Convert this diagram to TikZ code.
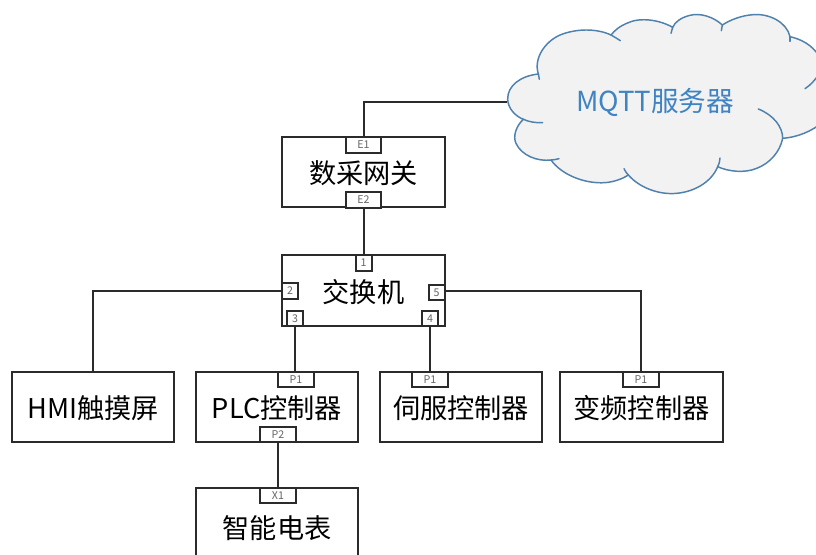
\documentclass[tikz,border=0pt]{standalone}
\usepackage{fontspec}
\setmainfont{Noto Sans CJK SC}[Scale=1]
\definecolor{linec}{HTML}{2B2B2B}
\definecolor{cloudline}{HTML}{4F81AD}
\definecolor{cloudfill}{HTML}{F2F2F2}
\definecolor{cloudtext}{HTML}{3F83C2}
\definecolor{portc}{HTML}{666666}
\tikzset{
  x=0.75pt,y=-0.75pt,
  devbox/.style={draw=linec,line width=1.5pt,fill=white,inner sep=0pt,minimum width=122pt,minimum height=52.5pt,text height=19pt,text depth=1.2pt,font=\fontsize{20.4}{24}\selectfont,text=black},
  portw/.style={draw=linec,line width=1.5pt,fill=white,inner sep=0pt,minimum width=26.5pt,minimum height=11.5pt,font=\fontsize{8}{9}\selectfont,text=portc},
  portn/.style={draw=linec,line width=1.5pt,fill=white,inner sep=0pt,minimum width=12pt,minimum height=11.5pt,font=\fontsize{8}{9}\selectfont,text=portc},
  wire/.style={draw=linec,line width=1.5pt},
  cloudarc/.style={draw=cloudline,line width=1.1pt,line cap=round},
}
\begin{document}
\begin{tikzpicture}
\useasboundingbox (0,0) rectangle (816,555);
\clip (0,0) rectangle (816,555);
\fill[white] (0,0) rectangle (816,555);
% cloud (zoom coordinates scaled to picture pixels)
\begin{scope}[shift={(490,0)},x=0.25pt,y=-0.25pt]
\path[fill=cloudfill,draw=cloudline,line width=1.1pt]
 (145,222) .. controls (90,228) and (52,258) .. (53,298)
 .. controls (54,325) and (75,348) .. (100,358)
 .. controls (78,378) and (68,410) .. (78,430)
 .. controls (95,468) and (145,485) .. (183,480)
 .. controls (215,525) and (285,552) .. (345,548)
 .. controls (370,546) and (395,538) .. (415,525)
 .. controls (450,565) and (510,585) .. (560,580)
 .. controls (615,575) and (665,545) .. (683,500)
 .. controls (715,515) and (765,520) .. (800,505)
 .. controls (840,490) and (870,455) .. (878,415)
 .. controls (920,412) and (965,395) .. (1000,365)
 -- (1040,300) -- (1040,180) -- (985,165)
 .. controls (965,135) and (935,118) .. (900,110)
 .. controls (890,65) and (835,40) .. (790,44)
 .. controls (755,46) and (720,60) .. (697,75)
 .. controls (670,50) and (630,38) .. (600,46)
 .. controls (575,52) and (555,65) .. (548,82)
 .. controls (510,60) and (450,50) .. (410,70)
 .. controls (390,78) and (375,90) .. (363,105)
 .. controls (320,85) and (260,85) .. (210,105)
 .. controls (165,125) and (130,175) .. (145,222) -- cycle;
\draw[cloudarc] (145,222) -- (148,238);
\draw[cloudarc] (100,358) .. controls (118,366) and (138,369) .. (158,368);
\draw[cloudarc] (183,480) .. controls (190,480) and (200,478) .. (207,476);
\draw[cloudarc] (415,525) .. controls (410,520) and (405,513) .. (402,506);
\draw[cloudarc] (683,500) .. controls (687,492) and (690,484) .. (690,474);
\draw[cloudarc] (805,327) .. controls (850,345) and (878,380) .. (878,415);
\draw[cloudarc] (945,266) .. controls (962,255) and (975,240) .. (985,225);
\draw[cloudarc] (900,110) -- (900,124);
\draw[cloudarc] (697,75) -- (694,92);
\draw[cloudarc] (548,82) -- (543,100);
\draw[cloudarc] (363,105) .. controls (372,110) and (382,116) .. (391,122);
\end{scope}
\coordinate (cloudleft) at (507,102);
\node[text=cloudtext,font=\fontsize{20.7}{24}\selectfont,inner sep=0pt,text height=19pt,text depth=1.2pt] (cloudlabel) at (655,100) {MQTT服务器};
% devices
\node[devbox] (gw) at (363.5,172) {数采网关};
\node[devbox,minimum height=53.25pt] (sw) at (363.5,290.5) {交换机};
\node[devbox] (hmi) at (93,407) {HMI触摸屏};
\node[devbox] (plc) at (277,407) {PLC控制器};
\node[devbox] (servo) at (461,407) {伺服控制器};
\node[devbox] (vfd) at (641.5,407) {变频控制器};
\node[devbox,minimum height=58pt] (meter) at (277,526.5) {智能电表};
% ports
\node[portw] (e1) at (363.5,145) {E1};
\node[portw] (e2) at (363.5,200) {E2};
\node[portn] (s1) at (363.5,263) {1};
\node[portn] (s2) at (290,291) {2};
\node[portn] (s5) at (436.5,292.5) {5};
\node[portn] (s3) at (295,318.5) {3};
\node[portn] (s4) at (430,318.5) {4};
\node[portw] (plcp1) at (296,379.5) {P1};
\node[portw] (plcp2) at (278,434.5) {P2};
\node[portw] (servop1) at (430,379.5) {P1};
\node[portw] (vfdp1) at (641,379.5) {P1};
\node[portw] (x1) at (278,495.5) {X1};
% connectors
\draw[wire] (e1.north) |- (cloudleft);
\draw[wire] (e2.south) -- (s1.north);
\draw[wire] (s2.west) -| (hmi.north);
\draw[wire] (s3.south) -- (s3.south |- plcp1.north);
\draw[wire] (s4.south) -- (s4.south |- servop1.north);
\draw[wire] (s5.east |- s2.west) -| (vfdp1.north);
\draw[wire] (plcp2.south) -- (x1.north);
\end{tikzpicture}
\end{document}
